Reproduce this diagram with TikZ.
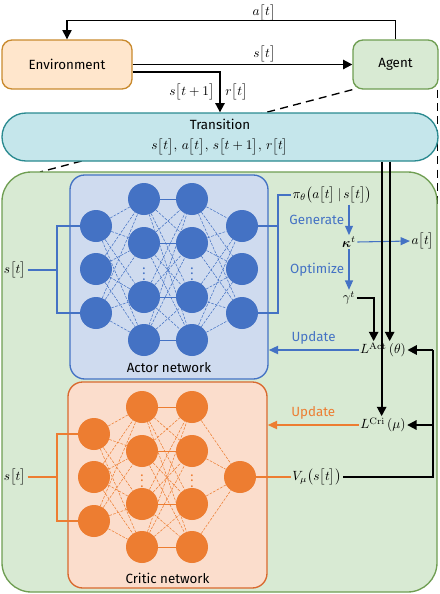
\documentclass[tikz,border=0pt]{standalone}
\usepackage{amsmath}
\usepackage[no-math]{fontspec}
\setmainfont{Fira Sans}
\usetikzlibrary{arrows.meta,positioning,backgrounds}

\definecolor{envfill}{HTML}{FFE6CC}
\definecolor{envline}{HTML}{C98A2E}
\definecolor{grnfill}{HTML}{D8EAD3}
\definecolor{grnline}{HTML}{6F9E52}
\definecolor{trfill}{HTML}{C5E6EB}
\definecolor{trline}{HTML}{2A8A90}
\definecolor{nnblue}{HTML}{4472C4}
\definecolor{actfill}{HTML}{CFDBEF}
\definecolor{nnorange}{HTML}{ED7D31}
\definecolor{critfill}{HTML}{FBDDCC}
\definecolor{critline}{HTML}{D9692E}

\newcommand{\tb}[1]{\bigl[#1\bigr]}

\tikzset{
  box/.style={draw, line width=1pt, rounded corners=7.5pt},
  sym/.style={inner sep=1pt},
  neuron/.style={circle, fill=#1, minimum size=24pt, inner sep=0pt},
  syn/.style={draw=#1, line width=0.4pt},
  dsyn/.style={draw=#1, line width=0.4pt, dash pattern=on 2pt off 1pt},
  wire/.style={draw=#1, line width=1.2pt},
  flow/.style={line width=1.4pt, -{Triangle[width=7pt,length=7pt]}},
  thinflow/.style={line width=0.8pt, -{Triangle[width=7pt,length=7pt]}},
  hint/.style={#1, line width=0.8pt, -{Triangle[width=6pt,length=7pt]}},
  upd/.style={#1, line width=1.4pt, -{Triangle[width=6pt,length=7pt]}},
  zoomline/.style={line width=1pt, dash pattern=on 6pt off 4pt},
}

\begin{document}
\begin{tikzpicture}[x=0.75pt, y=-0.75pt]
  \useasboundingbox (0,0) rectangle (440,594);

  % environment, agent and transition
  \node[box, fill=envfill, draw=envline, minimum width=97.5pt, minimum height=36.75pt] (env) at (67,64.5) {Environment};
  \node[box, fill=grnfill, draw=grnline, minimum width=63.75pt, minimum height=36.75pt] (agent) at (395.5,64.5) {Agent};
  \node[box, fill=trfill, draw=trline, rounded corners=18pt, minimum width=327pt, minimum height=36pt, align=center, inner sep=1pt] (trans) at (220,137)
    {Transition\\[3pt] $s\tb{t},\, a\tb{t},\, s\tb{t+1},\, r\tb{t}$};

  \draw[thinflow] (agent.north) -- ++(0,-19) -| node[sym, pos=0.2, above=-1.5pt] (atlab) {$a\tb{t}$} (env.north);
  \draw[flow] (env.east) -- node[sym, pos=0.6, above] (stlab) {$s\tb{t}$} (agent.west);
  \draw[flow] ([yshift=-5.5pt]env.east) -| node[pos=0.75, left] (snext) {$s\tb{t+1}$}
    node[pos=0.75, right] (rlab) {$r\tb{t}$} (trans.north);

  % inside the agent
  \node[box, fill=grnfill, draw=grnline, rounded corners=22pt, minimum width=326.25pt, minimum height=315pt] (inside) at (219.5,382) {};

  \coordinate (zl) at (40,172);
  \coordinate (zr) at (437,205);
  \begin{scope}[on background layer]
    \draw[zoomline] (agent.south west) -- (zl);
    \draw[zoomline] ([xshift=-0.75pt]agent.south east) -- ([xshift=-0.75pt]agent.south east |- zr);
  \end{scope}

  \node[box, fill=actfill, draw=nnblue, rounded corners=11pt, minimum width=148.5pt, minimum height=153pt] (actor) at (169,277) {};
  \node[above=2pt of actor.south] (actlab) {Actor network};
  \node[box, fill=critfill, draw=critline, rounded corners=11pt, minimum width=149.25pt, minimum height=154.5pt] (critic) at (167.5,485) {};
  \node[above=0.5pt of critic.south] (critlab) {Critic network};

  % actor network
  \foreach \y [count=\i] in {226,269,313} {
    \node[neuron=nnblue] (a1-\i) at (96,\y) {};
    \node[neuron=nnblue] (a4-\i) at (242,\y) {};
  }
  \foreach \y [count=\i] in {199,243,297,340} {
    \node[neuron=nnblue] (a2-\i) at (144,\y) {};
    \node[neuron=nnblue] (a3-\i) at (192,\y) {};
  }
  \foreach \i in {1,2,3} \foreach \j in {1,...,4} {
    \draw[dsyn=nnblue] (a1-\i) -- (a2-\j);
    \draw[dsyn=nnblue] (a3-\j) -- (a4-\i);
  }
  \foreach \i in {1,...,4} \foreach \j in {1,...,4} {
    \ifnum\i=\j \draw[syn=nnblue] (a2-\i) -- (a3-\j); \else \draw[dsyn=nnblue] (a2-\i) -- (a3-\j); \fi
  }
  \node[text=nnblue] (a2-dots) at (144,270) {$\vdots$};
  \node[text=nnblue] (a3-dots) at (192,270) {$\vdots$};

  % critic network
  \foreach \y [count=\i] in {434,477,521} {
    \node[neuron=nnorange] (c1-\i) at (94,\y) {};
  }
  \foreach \y [count=\i] in {407,451,504,547} {
    \node[neuron=nnorange] (c2-\i) at (142,\y) {};
    \node[neuron=nnorange] (c3-\i) at (192,\y) {};
  }
  \node[neuron=nnorange] (c4-1) at (240,477) {};
  \foreach \i in {1,2,3} \foreach \j in {1,...,4} {
    \draw[dsyn=nnorange] (c1-\i) -- (c2-\j);
  }
  \foreach \i in {1,...,4} {
    \draw[dsyn=nnorange] (c3-\i) -- (c4-1);
    \foreach \j in {1,...,4} {
      \ifnum\i=\j \draw[syn=nnorange] (c2-\i) -- (c3-\j); \else \draw[dsyn=nnorange] (c2-\i) -- (c3-\j); \fi
    }
  }
  \node[text=nnorange] (c2-dots) at (142,477) {$\vdots$};
  \node[text=nnorange] (c3-dots) at (192,477) {$\vdots$};

  % inputs and outputs
  \node[sym] (sa) at (15,270) {$s\tb{t}$};
  \coordinate (brA) at (57,270);
  \draw[wire=nnblue] (sa.east) -- (brA);
  \draw[wire=nnblue] (a1-1.west) -| (brA) |- (a1-3.west);

  \node[sym, anchor=west] (pi) at (291,195) {$\pi_\theta\bigl(a\tb{t}\,|\,s\tb{t}\bigr)$};
  \coordinate (brB) at (278,195);
  \draw[wire=nnblue] (a4-3.east) -| (brB) -- (pi.west);
  \draw[wire=nnblue] (a4-1.east) -| (brB);

  \node[sym] (sc) at (15,477) {$s\tb{t}$};
  \coordinate (brC) at (57,477);
  \draw[wire=nnorange] (sc.east) -- (brC);
  \draw[wire=nnorange] (c1-1.west) -| (brC) |- (c1-3.west);

  \node[sym] (vmu) at (317,477) {$V_\mu\bigl(s\tb{t}\bigr)$};
  \draw[wire=nnorange] (c4-1.east) -- (vmu.west);

  % action generation
  \node[sym] (kap) at (349,242) {$\boldsymbol{\kappa}^t$};
  \node[sym] (aout) at (423,241) {$a\tb{t}$};
  \node[sym] (gam) at (349,298) {$\gamma^t$};
  \draw[hint=nnblue] (kap.north |- pi.south) -- node[left, text=nnblue] (gen) {Generate} (kap.north);
  \draw[hint=nnblue] (kap.east) -- (aout.west);
  \draw[hint=nnblue] (kap.south) -- node[left, text=nnblue] (opt) {Optimize} (gam.north);

  % losses and updates
  \node[sym] (lact) at (383,350) {$L^{\mathrm{Act}}\,(\theta)$};
  \node[sym] (lcri) at (383,425) {$L^{\mathrm{Cri}}\,(\mu)$};

  \draw[flow] ([xshift=5pt]lact.north |- trans.south) -- ([xshift=5pt]lact.north);
  \draw[flow] ([xshift=-1pt]lcri.north |- trans.south) -- ([xshift=-1pt]lcri.north);
  \draw[flow] (gam.east) -| ([xshift=-7pt]lact.north);

  \coordinate (fbk) at (433,350);
  \draw[line width=1.4pt] (vmu.east) -| (fbk);
  \draw[flow] (fbk) -- (lact.east);
  \draw[flow] (fbk |- lcri.east) -- (lcri.east);

  \draw[upd=nnblue] (lact.west) -- node[above, text=nnblue] (updA) {Update} (actor.east |- lact.west);
  \draw[upd=nnorange] (lcri.west) -- node[above, text=nnorange] (updC) {Update} (critic.east |- lcri.west);
\end{tikzpicture}
\end{document}
